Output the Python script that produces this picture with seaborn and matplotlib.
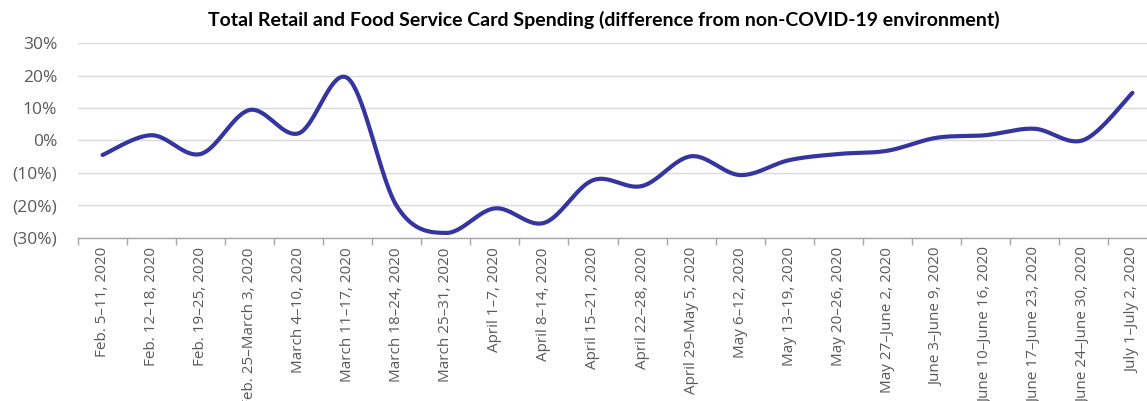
import numpy as np
import pandas as pd
import matplotlib
matplotlib.use("Agg")
import matplotlib.pyplot as plt
import seaborn as sns
from matplotlib.ticker import FuncFormatter, FixedLocator

weeks = [
    "Feb. 5–11, 2020", "Feb. 12–18, 2020", "Feb. 19–25, 2020", "Feb. 25–March 3, 2020",
    "March 4–10, 2020", "March 11–17, 2020", "March 18–24, 2020", "March 25–31, 2020",
    "April 1–7, 2020", "April 8–14, 2020", "April 15–21, 2020", "April 22–28, 2020",
    "April 29–May 5, 2020", "May 6–12, 2020", "May 13–19, 2020", "May 20–26, 2020",
    "May 27–June 2, 2020", "June 3–June 9, 2020", "June 10–June 16, 2020",
    "June 17–June 23, 2020", "June 24–June 30, 2020", "July 1–July 2, 2020",
]
spending_diff = [-4.5, 1.6, -4.2, 9.4, 2.2, 19.2, -20.3, -28.6, -21.0, -25.5, -12.3,
                 -14.1, -4.9, -10.7, -6.1, -4.2, -3.2, 0.8, 1.6, 3.6, 0.1, 14.7]
y_ticks = [-30, -20, -10, 0, 10, 20, 30]
title = "Total Retail and Food Service Card Spending (difference from non-COVID-19 environment)"

# smoothed curve (Bezier, like a spreadsheet's smoothed line) through the data points
x = np.arange(len(spending_diff), dtype=float)
y = np.array(spending_diff, dtype=float)
px = np.concatenate([[x[0]], x, [x[-1]]])
py = np.concatenate([[y[0]], y, [y[-1]]])
xs, ys = [], []
t = np.linspace(0, 1, 40)
for i in range(len(x) - 1):
    p0 = np.array([x[i], y[i]]); p3 = np.array([x[i + 1], y[i + 1]])
    prev = np.array([px[i], py[i]]); nxt = np.array([px[i + 3], py[i + 3]])
    c1 = p0 + (p3 - prev) / 6.0
    c2 = p3 - (nxt - p0) / 6.0
    b = ((1 - t) ** 3)[:, None] * p0 + (3 * (1 - t) ** 2 * t)[:, None] * c1 + \
        (3 * (1 - t) * t ** 2)[:, None] * c2 + (t ** 3)[:, None] * p3
    xs.extend(b[:, 0]); ys.extend(b[:, 1])
curve = pd.DataFrame({"x": xs, "y": ys})

sns.set_theme(style="white")
plt.rcParams["font.family"] = ["Open Sans", "DejaVu Sans"]

fig = plt.figure(figsize=(11.47, 4.01), dpi=100)
ax = fig.add_axes([78 / 1147, (401 - 237.5) / 401, 1079 / 1147, 194.2 / 401])

sns.lineplot(data=curve, x="x", y="y", ax=ax, color="#3535A0", linewidth=3.0,
             sort=False, estimator=None, solid_capstyle="round")

ax.set_xlim(-0.5, len(weeks) - 0.5)
ax.set_ylim(-30, 30)
ax.set_yticks(y_ticks)
ax.yaxis.set_major_formatter(FuncFormatter(
    lambda v, p: f"({abs(int(round(v)))}%)" if v < 0 else f"{int(round(v))}%"))
ax.grid(axis="y", color="#D9D9D9", linewidth=1.0)
ax.set_axisbelow(True)

ax.set_xticks(x)
ax.set_xticklabels(weeks, rotation=90, va="top", ha="center")
ax.xaxis.set_minor_locator(FixedLocator(np.arange(-0.5, len(weeks), 1.0)))
ax.tick_params(axis="x", which="major", length=0, pad=7, labelsize=11, labelcolor="#595959")
ax.tick_params(axis="x", which="minor", length=5, width=1, color="#A6A6A6", direction="out", bottom=True)
ax.tick_params(axis="y", length=0, pad=15, labelsize=12.5, labelcolor="#595959")
for lab in ax.get_yticklabels():
    lab.set_horizontalalignment("right")

for s in ["top", "right", "left"]:
    ax.spines[s].set_visible(False)
ax.spines["bottom"].set_color("#A6A6A6")
ax.spines["bottom"].set_linewidth(1.0)
ax.set_xlabel("")
ax.set_ylabel("")

fig.text(604 / 1147, 1 - 20 / 401, title, ha="center", va="center",
         fontsize=14, fontweight="bold", color="#000000", family=["Lato", "DejaVu Sans"])

fig.savefig("out.png", dpi=100)
